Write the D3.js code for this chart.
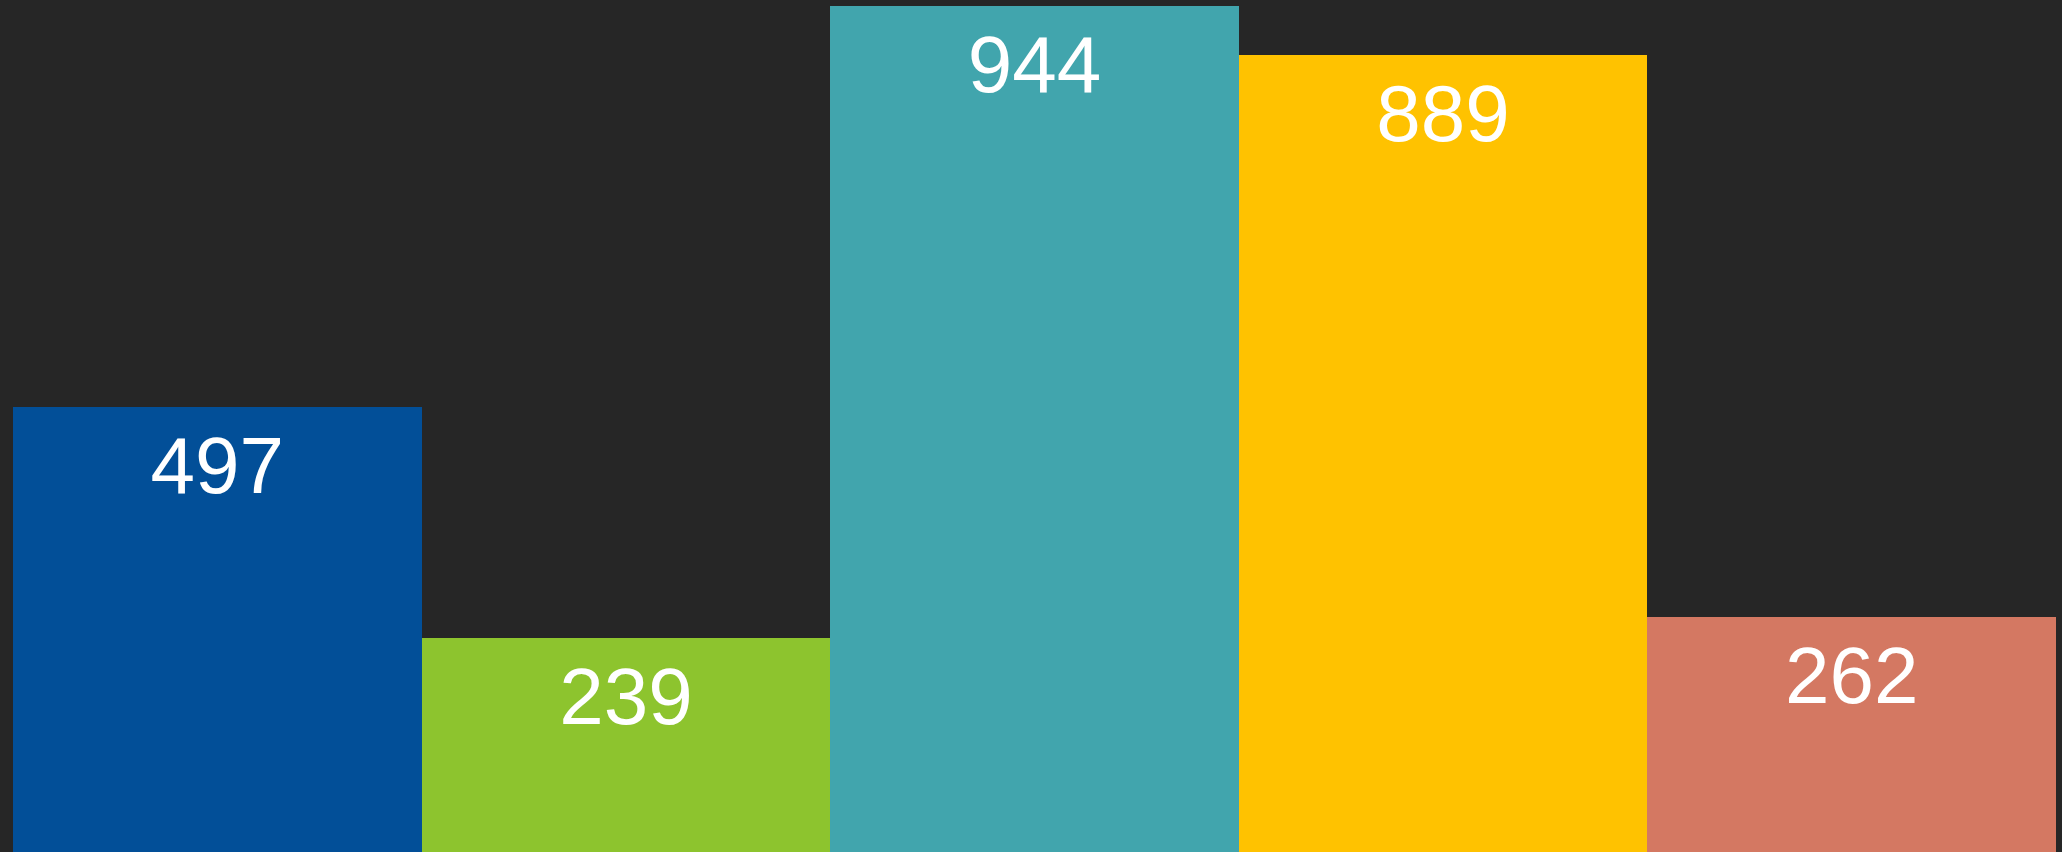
<!DOCTYPE html>
<html>
<head>
<meta charset="utf-8">
<script src="https://cdn.jsdelivr.net/npm/d3@7"></script>
<style>
  html, body { margin: 0; padding: 0; background: #262626; }
  svg { display: block; }
</style>
</head>
<body>
<script>
const categories = ["A", "B", "C", "D", "E"];
const values = [497, 239, 944, 889, 262];
const colors = ["#024f98", "#8dc42e", "#41a5ad", "#ffc200", "#d47862"];

const W = 2062, H = 852;
const margin = { left: 13, right: 6, top: 6, bottom: 0 };

const svg = d3.select("body").append("svg").attr("width", W).attr("height", H);
svg.append("rect").attr("width", W).attr("height", H).attr("fill", "#262626");

const x = d3.scaleBand().domain(categories).range([margin.left, W - margin.right]).padding(0);
const y = d3.scaleLinear().domain([0, d3.max(values)]).range([H - margin.bottom, margin.top]);

const g = svg.append("g");
g.selectAll("rect.bar").data(values).join("rect")
  .attr("class", "bar")
  .attr("x", (d, i) => x(categories[i]))
  .attr("y", d => y(d))
  .attr("width", x.bandwidth())
  .attr("height", d => y(0) - y(d))
  .attr("fill", (d, i) => colors[i])
  .attr("shape-rendering", "crispEdges");

g.selectAll("text.lbl").data(values).join("text")
  .attr("class", "lbl")
  .attr("x", (d, i) => x(categories[i]) + x.bandwidth() / 2)
  .attr("y", d => y(d) + 86)
  .attr("text-anchor", "middle")
  .attr("fill", "#ffffff")
  .style("font-family", "'Liberation Sans', Arial, Helvetica, sans-serif")
  .style("font-size", "80px")
  .text(d => d);
</script>
</body>
</html>
